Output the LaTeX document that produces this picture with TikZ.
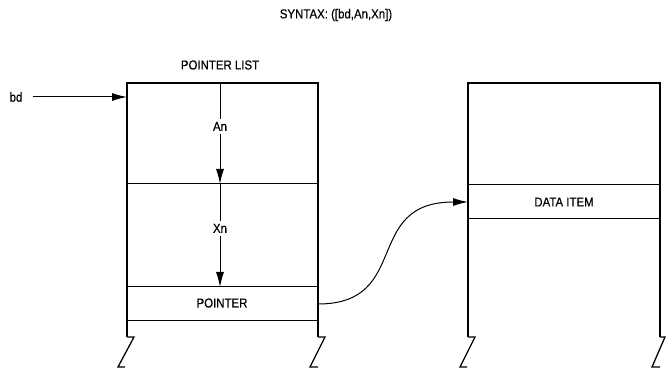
\documentclass[tikz,border=0pt]{standalone}
\usepackage{fontspec}
\setmainfont{Liberation Sans}[FakeStretch=0.88, FakeBold=0.4]
\usetikzlibrary{arrows.meta}
\begin{document}
\begin{tikzpicture}[x=1pt,y=-1pt,
  outer/.style={line width=1.8pt, line join=miter},
  inner/.style={line width=1pt},
  lbl/.style={font=\fontsize{13}{15}\selectfont, inner sep=1pt},
  cell/.style={lbl, draw=none, minimum height=30pt, minimum width=150pt},
  ptrarrow/.style={line width=1pt, -{Latex[length=15pt,width=8pt]}},
  brk/.style={line width=1.3pt, line join=miter}]
\useasboundingbox (0,0) rectangle (667,374);

% title labels
\node[lbl] (title) at (336,15) {SYNTAX: ([bd,An,Xn])};
\node[lbl] (plist) at (220,65) {POINTER LIST};

% left column (pointer list)
\coordinate (LTL) at (127,83);
\coordinate (LTR) at (318,83);
\coordinate (LBL) at (127,337);
\coordinate (LBR) at (318,337);
\draw[outer] (LBL) -- (LTL) -- (LTR) -- (LBR);
\draw[inner] (127,184) -- (318,184);
\draw[inner] (127,287) -- (318,287);
\draw[inner] (127,320) -- (318,320);
\draw[brk] (LBL) -- ++(7,0) -- (118,367) -- (125,367);
\draw[brk] (LBR) -- ++(7,0) -- (310,367) -- (318,367);
\node[cell] (ptr) at (222,303) {POINTER};

% right column (data)
\coordinate (RTL) at (468,83);
\coordinate (RTR) at (660,83);
\coordinate (RBL) at (468,337);
\coordinate (RBR) at (660,337);
\draw[outer] (RBL) -- (RTL) -- (RTR) -- (RBR);
\draw[inner] (468,185) -- (660,185);
\draw[inner] (468,219) -- (660,219);
\draw[brk] (RBL) -- ++(7,0) -- (460,367) -- (467,367);
\draw[brk] (RBR) -- ++(5,0) -- (652,367) -- (660,367);
\node[cell] (data) at (564,202) {DATA ITEM};

% bd arrow
\node[lbl] (bd) at (16,97) {bd};
\coordinate (bdin) at (127,97);
\draw[ptrarrow] ([xshift=9pt]bd.east) -- (bdin);

% An and Xn displacements
\coordinate (a0) at (220,83);
\coordinate (a1) at (220,184);
\coordinate (a2) at (220,287);
\draw[ptrarrow] (a0) -- (a1) node[lbl, pos=0.43, fill=white, inner sep=3pt] (An) {An};
\draw[ptrarrow] (a1) -- (a2) node[lbl, pos=0.43, fill=white, inner sep=3pt] (Xn) {Xn};

% pointer to data item
\coordinate (pout) at (318,304);
\coordinate (din) at (468,202);
\draw[ptrarrow] (pout) .. controls (412,304) and (362,202) .. (din);
\end{tikzpicture}
\end{document}
